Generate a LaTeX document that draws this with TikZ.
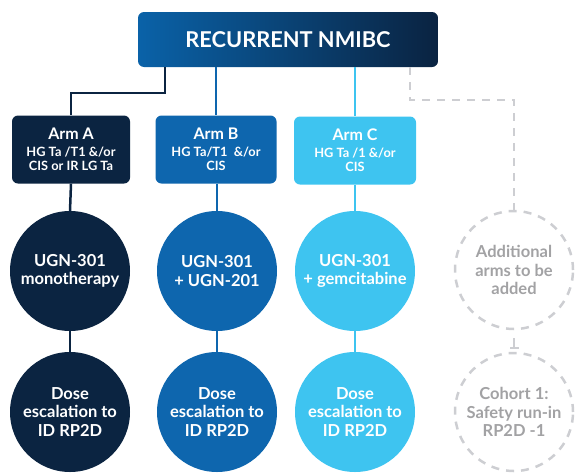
\documentclass[tikz,border=0pt]{standalone}
\usepackage{fontspec}
\setmainfont{Lato}
\usetikzlibrary{arrows.meta}
\definecolor{navy}{HTML}{0B2441}
\definecolor{midblue}{HTML}{0E66AE}
\definecolor{lightblue}{HTML}{3EC4F0}
\definecolor{topleft}{HTML}{0A62A8}
\definecolor{topright}{HTML}{0A2341}
\definecolor{dgrey}{HTML}{CDCED2}
\definecolor{tgrey}{HTML}{A2A2A4}
\tikzset{
  topbox/.style={rounded corners=6pt, minimum width=300pt, minimum height=55pt,
    left color=topleft, right color=topright, shading angle=90,
    text=white, font=\bfseries\fontsize{21.8}{26}\selectfont, inner sep=0pt},
  armbox/.style={rounded corners=6pt, minimum height=68pt, inner sep=0pt,
    text=white, align=center, font=\bfseries\fontsize{12.8}{14.5}\selectfont},
  disc/.style={circle, minimum size=120pt, inner sep=0pt, text=white,
    align=center, font=\bfseries\fontsize{16.5}{18.5}\selectfont},
  ghost/.style={circle, minimum size=118pt, inner sep=0pt, text=tgrey,
    align=center, font=\bfseries\fontsize{16.5}{18.5}\selectfont,
    draw=dgrey, line width=2.5pt, dash pattern=on 8pt off 7pt},
  link/.style={line width=2.5pt},
  ghostlink/.style={line width=2.5pt, draw=dgrey, dash pattern=on 8pt off 7pt}
}
\newcommand{\armhead}[1]{{\fontsize{16}{18}\selectfont #1}\\[2pt]}
\begin{document}
\begin{tikzpicture}[x=1pt,y=-1pt]
\useasboundingbox (0,0) rectangle (578,474);
\node[topbox] (top) at (288,39.5) {RECURRENT NMIBC};
\node[armbox, fill=navy, minimum width=118pt] (armA) at (71,149.5)
  {\armhead{Arm A}HG Ta /T1 \&/or\\ CIS or IR LG Ta};
\node[armbox, fill=midblue, minimum width=121pt] (armB) at (216,149.5)
  {\armhead{Arm B}HG Ta/T1 \ \&/or\\ CIS};
\node[armbox, fill=lightblue, minimum width=122pt] (armC) at (355,150.5)
  {\armhead{Arm C}HG Ta /1 \&/or\\ CIS};
\node[disc, fill=navy] (treatA) at (70,271) {UGN-301\\monotherapy};
\node[disc, fill=midblue] (treatB) at (217,271) {UGN-301\\+ UGN-201};
\node[disc, fill=lightblue] (treatC) at (355,271) {UGN-301\\+ gemcitabine};
\node[ghost] (treatD) at (514,270) {Additional\\arms to be\\added};
\node[disc, fill=navy] (doseA) at (70,412) {Dose\\escalation to\\ID RP2D};
\node[disc, fill=midblue] (doseB) at (217,412) {Dose\\escalation to\\ID RP2D};
\node[disc, fill=lightblue] (doseC) at (355,412) {Dose\\escalation to\\ID RP2D};
\node[ghost] (doseD) at (514,412) {Cohort 1:\\Safety run-in\\RP2D -1};
% connectors
\coordinate (bendA) at (165,93);
\coordinate (startD) at (410,67);
\coordinate (bendD) at (514,100);
\draw[link, navy] (top.south -| bendA) -- (bendA) -- (bendA -| armA) -- (armA.north);
\draw[link, midblue] (top.south -| armB) -- (armB.north);
\draw[link, lightblue] (top.south -| armC) -- (armC.north);
\draw[ghostlink] (startD) -- (startD |- bendD) -- (bendD) -- (treatD.north);
\draw[link, navy] (armA.south) -- (treatA.north);
\draw[link, midblue] (armB.south -| treatB) -- (treatB.north);
\draw[link, lightblue] (armC.south) -- (treatC.north);
\draw[link, navy] (treatA.south) -- (doseA.north);
\draw[link, midblue] (treatB.south) -- (doseB.north);
\draw[link, lightblue] (treatC.south) -- (doseC.north);
\draw[line width=2pt, dgrey, -{Bar[width=9pt,line width=2pt]}, shorten >=3pt] (treatD.south) ++(0,8) -- (doseD.north);
\end{tikzpicture}
\end{document}
